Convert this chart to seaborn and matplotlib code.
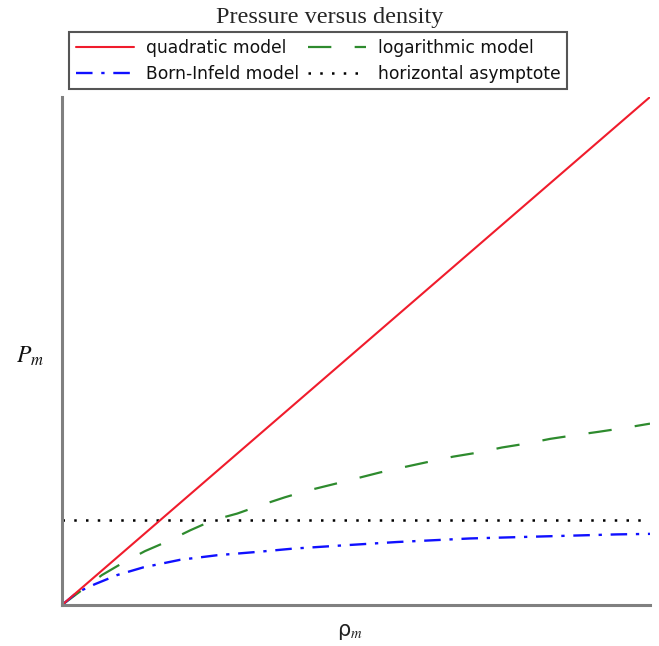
import pandas as pd
import numpy as np
import matplotlib
matplotlib.use("Agg")
import matplotlib.pyplot as plt
import seaborn as sns

# values (x and y in axis fractions)
rho_quad = [0.0, 1.0]
p_quad = [0.0, 1.0]

rho_log = [0.0, 0.068, 0.102, 0.141, 0.179, 0.218, 0.257, 0.298, 0.337, 0.379, 0.417,
           0.473, 0.541, 0.580, 0.624, 0.665, 0.707, 0.748, 0.791, 0.830, 0.876, 0.913,
           0.959, 1.0]
p_log = [0.0, 0.059, 0.082, 0.106, 0.125, 0.147, 0.167, 0.180, 0.196, 0.212, 0.225,
         0.241, 0.261, 0.271, 0.282, 0.292, 0.300, 0.310, 0.318, 0.327, 0.335, 0.341,
         0.349, 0.357]

rho_bi = [0.0, 0.026, 0.056, 0.094, 0.138, 0.201, 0.264, 0.337, 0.393, 0.473, 0.570,
          0.694, 0.818, 0.944, 1.0]
p_bi = [0.0, 0.025, 0.041, 0.059, 0.074, 0.089, 0.098, 0.105, 0.111, 0.117, 0.124,
        0.131, 0.135, 0.139, 0.140]

rho_asym = [0.0, 1.0]
p_asym = [0.167, 0.167]

labels = ["quadratic model", "logarithmic model", "Born-Infeld model", "horizontal asymptote"]

sns.set_style("white")
plt.rcParams["mathtext.fontset"] = "stix"

fig = plt.figure(figsize=(6.59, 6.46), dpi=100)
ax = fig.add_axes([62 / 659, 1 - 605 / 646, 588 / 659, 508 / 646])

sns.lineplot(x=rho_asym, y=p_asym, ax=ax, color="black", lw=1.8, label=labels[3])
ax.lines[-1].set_dashes((1, 3.7))
sns.lineplot(x=rho_log, y=p_log, ax=ax, color="#2e8b2e", lw=1.6, label=labels[1])
ax.lines[-1].set_dashes((10.5, 10.5))
sns.lineplot(x=rho_bi, y=p_bi, ax=ax, color="#1010ff", lw=1.7, label=labels[2])
ax.lines[-1].set_dashes((7, 3.7, 1.4, 3.7))
sns.lineplot(x=rho_quad, y=p_quad, ax=ax, color="#f01c2c", lw=1.5, label=labels[0])

ax.set_xlim(0, 1)
ax.set_ylim(0, 1.0)
ax.set_xticks([])
ax.set_yticks([])
for s in ["top", "right"]:
    ax.spines[s].set_visible(False)
for s in ["left", "bottom"]:
    ax.spines[s].set_color("#808080")
    ax.spines[s].set_linewidth(2.2)

ax.set_xlabel(r"ρ$_m$", fontsize=15, color="#222222", va="center")
ax.set_ylabel(r"$P_m$", fontsize=17, rotation=0, color="#111111", va="center")
ax.xaxis.set_label_coords(0.49, -0.053)
ax.yaxis.set_label_coords(-0.055, 0.49)

h, l = ax.get_legend_handles_labels()
ax.get_legend().remove()
order = [labels[0], labels[2], labels[1], labels[3]]
hd = dict(zip(l, h))
leg = fig.legend([hd[k] for k in order], order, ncol=2, loc="upper center",
                 bbox_to_anchor=(318 / 659, 1 - 32 / 646), fontsize=12.3,
                 handlelength=3.4, columnspacing=0.5, handletextpad=0.7,
                 labelspacing=0.45, borderpad=0.4, borderaxespad=0, fancybox=False,
                 frameon=True, edgecolor="#555555", framealpha=1)
leg.get_frame().set_linewidth(1.5)
for t in leg.get_texts():
    t.set_color("#111111")

fig.text(330 / 659, 1 - 17 / 646, "Pressure versus density", ha="center", va="center",
         fontsize=17.5, family="Liberation Serif")

fig.savefig("out.png", dpi=100)
